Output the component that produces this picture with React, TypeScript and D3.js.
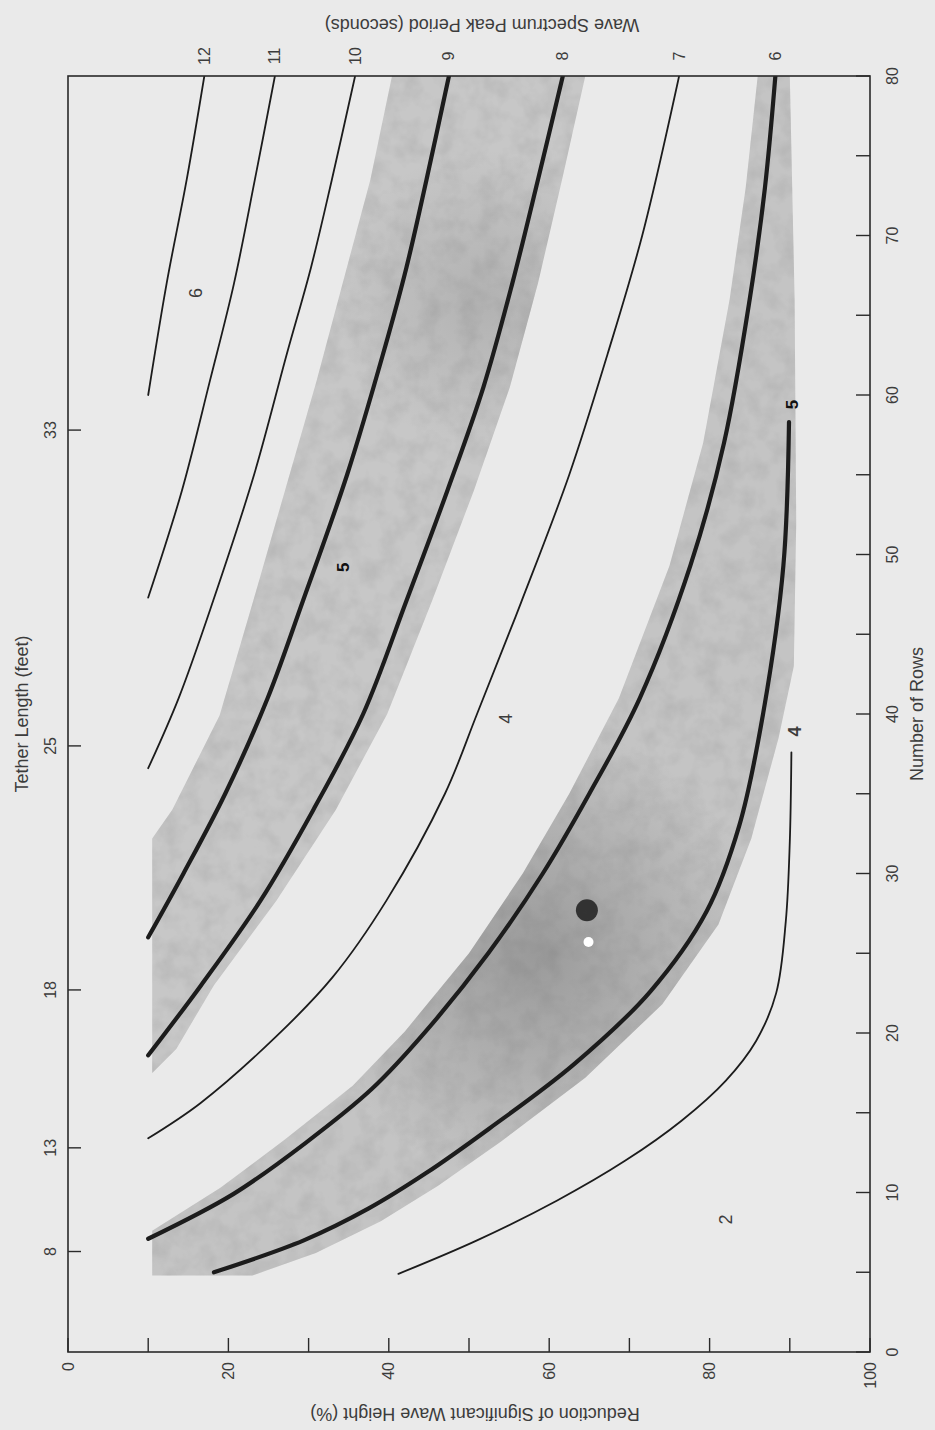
import React from "react";
import * as d3 from "d3";

// ---------- axis data ----------
const reductionTicks = [0, 10, 20, 30, 40, 50, 60, 70, 80, 90, 100];
const reductionLabels = [0, 20, 40, 60, 80, 100];
const rowTicks = [0, 5, 10, 15, 20, 25, 30, 35, 40, 45, 50, 55, 60, 65, 70, 75, 80];
const rowLabels = [0, 10, 20, 30, 40, 50, 60, 70, 80];
const tetherValues = [8, 13, 18, 25, 33];
const tetherRows = [6.3, 12.8, 22.7, 38, 57.8];

// ---------- curves: number of rows vs reduction (%) ----------
const p12Rows = [60, 67, 73.5, 80];
const p12Red = [10, 12.3, 14.8, 17.0];
const p11Rows = [47.3, 54, 60.9, 67, 73.5, 80];
const p11Red = [10, 14.2, 17.7, 20.7, 23.3, 25.8];
const p10Rows = [36.6, 41, 47.1, 55, 62.6, 68, 73.5, 80];
const p10Red = [10, 13.8, 18.1, 23.2, 27.3, 30.3, 32.9, 35.8];
const p9Rows = [26, 30, 35, 41, 47.1, 55, 62.6, 68, 73.5, 80];
const p9Red = [10, 14.4, 19.6, 24.9, 29.3, 34.8, 39.3, 42.2, 44.7, 47.5];
const p8Rows = [18.6, 23, 28.3, 34, 40, 47.1, 54, 60.5, 67, 73.5, 80];
const p8Red = [10, 16.6, 24, 30.6, 36.8, 42.2, 47.3, 51.8, 55.4, 58.6, 61.7];
const p7Rows = [13.4, 15.6, 19.8, 23.5, 28.3, 35, 40, 47, 55, 62.6, 70, 80];
const p7Red = [10, 16.5, 26, 33, 39.7, 47, 51, 56.5, 62.5, 67.3, 71.6, 76.2];
const p6Rows = [7.1, 9.9, 13.1, 16.5, 20.1, 25, 30, 35, 41, 49.3, 57, 66, 73, 80];
const p6Red = [10, 20.6, 29.6, 37.9, 44.6, 52.4, 59.2, 65, 71.3, 77.6, 81.8, 85, 86.9, 88.2];
const c5Rows = [5.0, 7.0, 9, 11.2, 14, 18, 22.6, 27.6, 33, 40.1, 49.3, 58.3];
const c5Red = [18.2, 29.4, 37.5, 44.6, 52.5, 63, 72.6, 79.6, 83.7, 86.7, 89.2, 89.9];
const c4Rows = [4.9, 7, 9.5, 12, 14.5, 17, 19.5, 22.5, 27, 32, 37.6];
const c4Red = [41.2, 51, 61, 69.5, 76.5, 82, 85.8, 88.3, 89.5, 90.0, 90.2];

const periodLabels = ["12", "11", "10", "9", "8", "7", "6"];

// ---------- shaded bands (reduction %, rows) ----------
const upperBandRed = [10.5, 13.5, 18.2, 26, 33.4, 39.8, 45.4, 50.6, 55.1, 58.6, 61.6, 64.5, 64.5, 40.4, 40.4, 37.7, 31, 23.1, 18.9, 13, 10.5];
const upperBandRows = [17.5, 19, 23, 28.3, 34, 40, 47.1, 54, 60.5, 67, 73.5, 80, 83, 83, 80, 73.5, 60.9, 47.1, 39.9, 34, 32.2];
const lowerBandRed = [10.5, 23, 30.9, 39, 46.1, 54, 64.5, 74.1, 81.1, 85.2, 88.6, 90.5, 90.8, 90.6, 90, 90, 86, 86, 84.5, 82.5, 79.2, 75, 68.7, 62.5, 56.7, 50, 42, 35.5, 27, 19, 10.5];
const lowerBandRows = [4.8, 4.8, 6.2, 8.2, 10.4, 13.2, 17.2, 21.8, 26.8, 32.2, 38.5, 43, 52, 66, 80, 83, 83, 80, 73, 66, 57, 49.3, 41, 35, 30, 25, 20.1, 16.7, 13.3, 10.3, 7.6];

// ---------- in-plot notes ----------
const noteText = ["2", "4", "6", "4", "5", "5"];
const noteRed = [82, 54.6, 16, 90.7, 90.3, 34.3];
const noteRows = [8.3, 39.7, 66.4, 38.9, 59.4, 49.2];
const noteWeight = [400, 400, 400, 600, 900, 900];

// specks on the scan
const speckRed = [64.7, 64.9];
const speckRows = [27.7, 25.7];
const speckSize = [11, 5];
const speckColor = ["#1e1e1e", "#ffffff"];

const W = 935;
const H = 1430;
const FONT = "'Liberation Sans', Arial, Helvetica, sans-serif";
const INK = "#1c1c1c";
const TXT = "#3c3c3c";

export default function App() {
  const X = d3.scaleLinear().domain([0, 100]).range([68, 870]);
  const Y = d3.scaleLinear().domain([0, 80]).range([1352, 76]);

  const zip = (r: number[], n: number[]) => r.map((v, i) => [v, n[i]] as [number, number]);

  const line = d3
    .line<[number, number]>()
    .x((d) => X(d[0]))
    .y((d) => Y(d[1]))
    .curve(d3.curveCatmullRom.alpha(0.5));
  const area = d3
    .line<[number, number]>()
    .x((d) => X(d[0]))
    .y((d) => Y(d[1]))
    .curve(d3.curveLinearClosed);

  const curves = [
    { label: "12", pts: zip(p12Red, p12Rows), thick: false },
    { label: "11", pts: zip(p11Red, p11Rows), thick: false },
    { label: "10", pts: zip(p10Red, p10Rows), thick: false },
    { label: "9", pts: zip(p9Red, p9Rows), thick: true },
    { label: "8", pts: zip(p8Red, p8Rows), thick: true },
    { label: "7", pts: zip(p7Red, p7Rows), thick: false },
    { label: "6", pts: zip(p6Red, p6Rows), thick: true },
    { label: "", pts: zip(c5Red, c5Rows), thick: true },
    { label: "", pts: zip(c4Red, c4Rows), thick: false },
  ];

  const x0 = X(0), x1 = X(100), y0 = Y(0), y1 = Y(80);
  const upperD = area(zip(upperBandRed, upperBandRows)) || "";
  const lowerD = area(zip(lowerBandRed, lowerBandRows)) || "";

  return (
    <svg
      width={W}
      height={H}
      style={{ position: "absolute", left: 0, top: 0, display: "block" }}
      fontFamily={FONT}
    >
      <defs>
        <clipPath id="plotClip">
          <rect x={x0} y={y1} width={x1 - x0} height={y0 - y1} />
        </clipPath>
        <filter id="grain" x="0" y="0" width="100%" height="100%">
          <feTurbulence type="fractalNoise" baseFrequency="0.05" numOctaves="3" seed="4" result="noise" />
          <feColorMatrix
            in="noise"
            type="matrix"
            values="0 0 0 0 0.3  0 0 0 0 0.3  0 0 0 0 0.3  0 0 0 0.6 -0.22"
            result="tint"
          />
          <feComposite in="tint" in2="SourceGraphic" operator="in" result="tex" />
          <feMerge>
            <feMergeNode in="SourceGraphic" />
            <feMergeNode in="tex" />
          </feMerge>
        </filter>
        <radialGradient id="darkSpot" gradientUnits="userSpaceOnUse" cx={X(58)} cy={Y(25)} r={230}>
          <stop offset="0" stopColor="#404040" stopOpacity={0.32} />
          <stop offset="1" stopColor="#404040" stopOpacity={0} />
        </radialGradient>
        <radialGradient id="darkSpot2" gradientUnits="userSpaceOnUse" cx={X(52)} cy={Y(66)} r={150}>
          <stop offset="0" stopColor="#404040" stopOpacity={0.16} />
          <stop offset="1" stopColor="#404040" stopOpacity={0} />
        </radialGradient>
      </defs>
      <rect x={0} y={0} width={W} height={H} fill="#eaeaea" />

      {/* shaded bands */}
      <g clipPath="url(#plotClip)">
        <path d={upperD} fill="#c7c7c7" filter="url(#grain)" />
        <path d={upperD} fill="url(#darkSpot2)" />
        <path d={lowerD} fill="#c4c4c4" filter="url(#grain)" />
        <path d={lowerD} fill="url(#darkSpot)" />
      </g>

      {/* curves */}
      <g clipPath="url(#plotClip)" fill="none" stroke={INK} strokeLinecap="round">
        {curves.map((c, i) => (
          <path key={i} d={line(c.pts) || ""} strokeWidth={c.thick ? 4.2 : 1.8} />
        ))}
      </g>

      {/* specks */}
      {speckRed.map((r, i) => (
        <circle key={i} cx={X(r)} cy={Y(speckRows[i])} r={speckSize[i]} fill={speckColor[i]} opacity={i === 0 ? 0.85 : 1} />
      ))}

      {/* frame */}
      <rect x={x0} y={y1} width={x1 - x0} height={y0 - y1} fill="none" stroke="#2a2a2a" strokeWidth={1.6} />

      {/* bottom ticks */}
      {reductionTicks.map((t) => (
        <line key={"bt" + t} x1={X(t)} x2={X(t)} y1={y0} y2={y0 - 14} stroke="#2a2a2a" strokeWidth={1.4} />
      ))}
      {reductionLabels.map((t) => (
        <text
          key={"bl" + t}
          transform={`translate(${X(t)},${y0 + 10}) rotate(-90)`}
          textAnchor="end"
          dominantBaseline="central"
          fontSize={16}
          fill={TXT}
        >
          {t}
        </text>
      ))}
      <text
        transform={`translate(${(x0 + x1) / 2 + 6},${1414}) rotate(180)`}
        textAnchor="middle"
        dominantBaseline="central"
        fontSize={18}
        fill={TXT}
      >
        Reduction of Significant Wave Height (%)
      </text>

      {/* right ticks: number of rows */}
      {rowTicks.map((t) => (
        <line key={"rt" + t} x1={x1} x2={x1 - 14} y1={Y(t)} y2={Y(t)} stroke="#2a2a2a" strokeWidth={1.4} />
      ))}
      {rowLabels.map((t) => (
        <text
          key={"rl" + t}
          transform={`translate(${x1 + 22},${Y(t)}) rotate(-90)`}
          textAnchor="middle"
          dominantBaseline="central"
          fontSize={16}
          fill={TXT}
        >
          {t}
        </text>
      ))}
      <text
        transform={`translate(${917},${Y(40)}) rotate(-90)`}
        textAnchor="middle"
        dominantBaseline="central"
        fontSize={18}
        fill={TXT}
      >
        Number of Rows
      </text>

      {/* left ticks: tether length */}
      {tetherValues.map((v, i) => (
        <g key={"tl" + v}>
          <line x1={x0} x2={x0 + 13} y1={Y(tetherRows[i])} y2={Y(tetherRows[i])} stroke="#2a2a2a" strokeWidth={1.4} />
          <text
            transform={`translate(${x0 - 18},${Y(tetherRows[i])}) rotate(-90)`}
            textAnchor="middle"
            dominantBaseline="central"
            fontSize={16}
            fill={TXT}
          >
            {v}
          </text>
        </g>
      ))}
      <text
        transform={`translate(${22},${Y(40)}) rotate(-90)`}
        textAnchor="middle"
        dominantBaseline="central"
        fontSize={18}
        fill={TXT}
      >
        Tether Length (feet)
      </text>

      {/* top: wave period labels at curve ends */}
      {curves
        .filter((c) => c.label !== "")
        .map((c, i) => {
          const end = c.pts[c.pts.length - 1];
          return (
            <text
              key={"pl" + i}
              transform={`translate(${X(end[0])},${y1 - 20}) rotate(-90)`}
              textAnchor="middle"
              dominantBaseline="central"
              fontSize={16}
              fill={TXT}
            >
              {periodLabels[i]}
            </text>
          );
        })}
      <text
        transform={`translate(${482},${25}) rotate(180)`}
        textAnchor="middle"
        dominantBaseline="central"
        fontSize={18}
        fill={TXT}
      >
        Wave Spectrum Peak Period (seconds)
      </text>

      {/* in-plot notes */}
      {noteText.map((t, i) => (
        <text
          key={"nt" + i}
          transform={`translate(${X(noteRed[i])},${Y(noteRows[i])}) rotate(-90)`}
          textAnchor="middle"
          dominantBaseline="central"
          fontSize={noteWeight[i] > 800 ? 17 : 18}
          fontWeight={noteWeight[i]}
          fill={noteWeight[i] > 800 ? "#111" : TXT}
        >
          {t}
        </text>
      ))}
    </svg>
  );
}
